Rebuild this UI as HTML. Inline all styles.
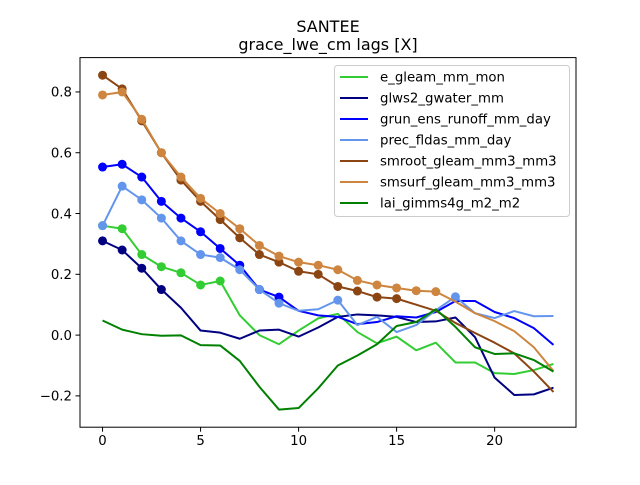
<!DOCTYPE html>
<html><head><meta charset="utf-8"><style>
body{margin:0;background:#fff;}
svg text{font-family:"DejaVu Sans","Liberation Sans",sans-serif;}
</style></head><body>
<svg id="chart" width="640" height="480" xmlns="http://www.w3.org/2000/svg">
<rect width="640" height="480" fill="#fff"/>
<text x="328" y="32" font-size="16" text-anchor="middle">SANTEE</text>
<text x="328" y="50" font-size="16" text-anchor="middle">grace_lwe_cm lags [X]</text>
<g id="plot"></g>
<g id="axes"></g>
<g id="legend"></g>
</svg>
<script>
const lags = [0,1,2,3,4,5,6,7,8,9,10,11,12,13,14,15,16,17,18,19,20,21,22,23];
const seriesNames = ["e_gleam_mm_mon","glws2_gwater_mm","grun_ens_runoff_mm_day","prec_fldas_mm_day","smroot_gleam_mm3_mm3","smsurf_gleam_mm3_mm3","lai_gimms4g_m2_m2"];
const eGleam = [0.36,0.35,0.265,0.225,0.205,0.165,0.178,0.065,0.0,-0.03,0.015,0.055,0.07,0.01,-0.027,-0.005,-0.05,-0.025,-0.09,-0.09,-0.125,-0.128,-0.115,-0.095];
const glws2 = [0.31,0.28,0.22,0.15,0.09,0.015,0.008,-0.012,0.015,0.018,-0.005,0.025,0.06,0.068,0.065,0.06,0.043,0.045,0.058,-0.007,-0.14,-0.197,-0.195,-0.173];
const grun = [0.553,0.562,0.52,0.44,0.385,0.34,0.285,0.23,0.15,0.125,0.08,0.065,0.06,0.036,0.043,0.062,0.058,0.076,0.112,0.112,0.076,0.056,0.023,-0.032];
const prec = [0.36,0.49,0.445,0.385,0.31,0.265,0.255,0.215,0.15,0.105,0.08,0.085,0.115,0.033,0.06,0.01,0.033,0.082,0.126,0.072,0.056,0.079,0.062,0.063];
const smroot = [0.855,0.81,0.705,0.6,0.51,0.44,0.38,0.32,0.265,0.24,0.21,0.2,0.16,0.145,0.125,0.12,0.1,0.08,0.04,0.007,-0.025,-0.06,-0.12,-0.187];
const smsurf = [0.79,0.8,0.71,0.6,0.52,0.45,0.4,0.35,0.295,0.26,0.24,0.23,0.215,0.18,0.165,0.155,0.146,0.143,0.11,0.072,0.046,0.013,-0.04,-0.118];
const lai = [0.048,0.018,0.003,-0.002,-0.001,-0.033,-0.034,-0.085,-0.17,-0.245,-0.24,-0.175,-0.1,-0.067,-0.03,0.03,0.043,0.085,0.027,-0.04,-0.062,-0.06,-0.082,-0.12];
const markedCount = [7,4,10,10,16,18,0];
const precExtraMarks = [12,18];
const xTicks = [0,5,10,15,20];
const yTicks = [-0.2,0,0.2,0.4,0.6,0.8];
const yTickLabels = ["\u22120.2","0.0","0.2","0.4","0.6","0.8"];

const colors = ["#32cd32","#000080","#0000ff","#6495ed","#8b4513","#cd853f","#008000"];
const allSeries = [eGleam,glws2,grun,prec,smroot,smsurf,lai];
const L=80,R=576,T=57.6,B=427.2;
const xMin=-1.15,xMax=24.15,yMin=-0.303,yMax=0.913;
const sx=v=>L+(v-xMin)/(xMax-xMin)*(R-L);
const sy=v=>B-(v-yMin)/(yMax-yMin)*(B-T);
const NS="http://www.w3.org/2000/svg";
function mk(tag,attrs,parent){const e=document.createElementNS(NS,tag);for(const k in attrs)e.setAttribute(k,attrs[k]);parent.appendChild(e);return e;}
const plot=document.getElementById('plot');
const axes=document.getElementById('axes');
const legend=document.getElementById('legend');
allSeries.forEach((vals,si)=>{
  const pts=vals.map((v,i)=>sx(lags[i]).toFixed(2)+','+sy(v).toFixed(2)).join(' ');
  const pl=mk('polyline',{points:pts,fill:'none',stroke:colors[si],'stroke-width':2,'stroke-linejoin':'round'},plot);
  
  
  vals.forEach((v,i)=>{
    const marked = i<markedCount[si] || (si===3 && precExtraMarks.includes(i));
    if(!marked) return;
    const c=mk('circle',{cx:sx(lags[i]),cy:sy(v),r:4.5,fill:colors[si]},plot);
    
    
  });
});
const frame=mk('rect',{x:L,y:T,width:R-L,height:B-T,fill:'none',stroke:'#000','stroke-width':1},axes);


xTicks.forEach(t=>{
  const x=sx(t);
  mk('line',{x1:x,x2:x,y1:B,y2:B+4.5,stroke:'#000'},axes);
  const tx=mk('text',{x:x,y:B+18,'font-size':13.3,'text-anchor':'middle'},axes);
  tx.textContent=t;
  
  
});
yTicks.forEach((t,i)=>{
  const y=sy(t);
  mk('line',{x1:L-4.5,x2:L,y1:y,y2:y,stroke:'#000'},axes);
  const tx=mk('text',{x:L-8,y:y+4.8,'font-size':13.3,'text-anchor':'end'},axes);
  tx.textContent=yTickLabels[i];
  
  
});
const lb=mk('rect',{x:334.5,y:65.5,width:235,height:151,rx:3,fill:'#fff','fill-opacity':0.8,stroke:'#ccc'},legend);


seriesNames.forEach((n,i)=>{
  const y=77+i*21;
  const ln=mk('line',{x1:340,x2:368,y1:y,y2:y,stroke:colors[i],'stroke-width':2},legend);
  
  
  const tx=mk('text',{x:380,y:y+4.7,'font-size':13.3},legend);
  tx.textContent=n;
  
  
});
</script>
</body></html>
